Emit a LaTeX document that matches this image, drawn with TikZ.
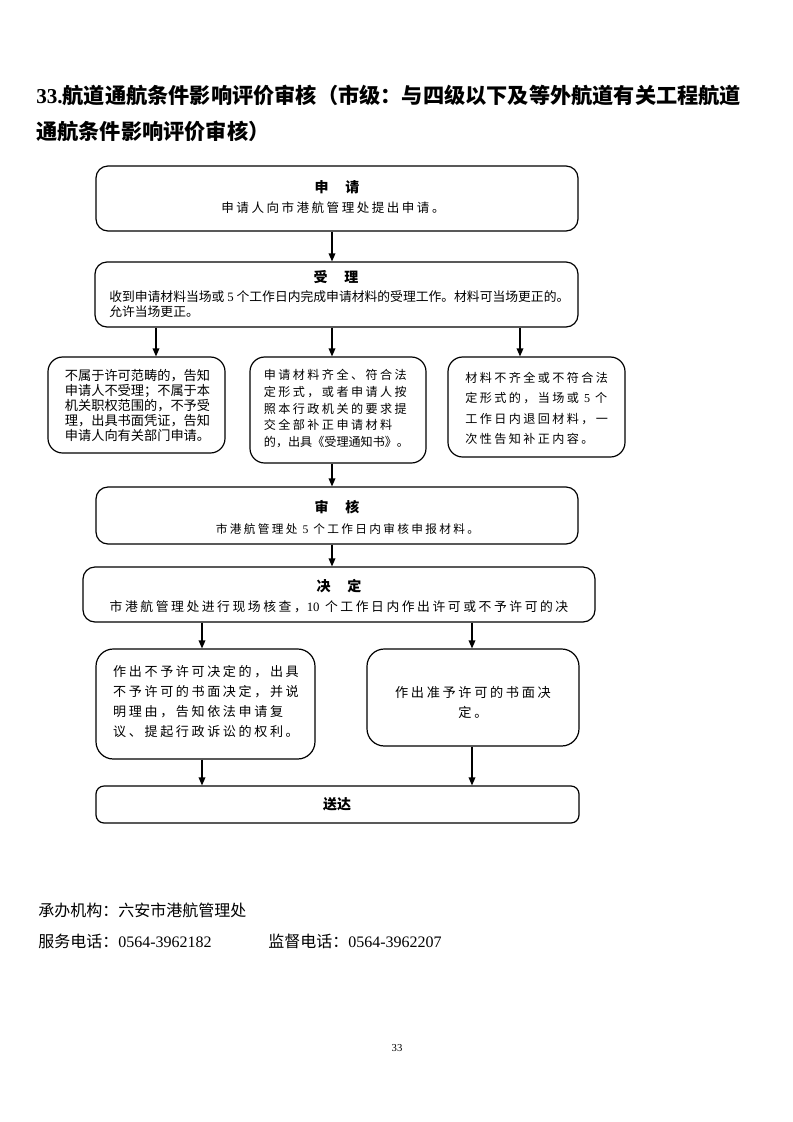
\documentclass[tikz,border=0pt]{standalone}
\usepackage{fontspec}
\setmainfont{Noto Sans CJK SC}
\newfontfamily\wide[LetterSpace=20]{Noto Sans CJK SC}
\newfontfamily\latin{Liberation Serif}
\usetikzlibrary{arrows.meta}

\tikzset{
  box/.style={draw, line width=0.9pt, rounded corners=9pt, inner sep=0pt},
  arr/.style={-{Triangle[length=6pt,width=5pt]}, line width=0.9pt},
  boxhead/.style={inner sep=0pt, font=\fontsize{10.5pt}{12pt}\selectfont\bfseries},
  txt/.style={inner sep=0pt},
}

\begin{document}
\begin{tikzpicture}[x=0.75pt, y=-0.75pt]
\useasboundingbox (0,0) rectangle (793,1122);

% Title
\node[txt, anchor=west, align=left, font=\fontsize{15.9pt}{27pt}\selectfont\bfseries] (title) at (36,113)
  {{\latin 33.}航道通航条件影响评价审核（市级：与四级以下及等外航道有关工程航道\\通航条件影响评价审核）};

% Boxes
\node[box, minimum width=361.5pt, minimum height=48.75pt] (apply) at (337,198.5) {};
\node[box, minimum width=362.25pt, minimum height=48.75pt] (accept) at (336.5,294.5) {};
\node[box, rounded corners=11pt, minimum width=132.75pt, minimum height=72pt] (rej) at (136.5,405) {};
\node[box, rounded corners=11pt, minimum width=132pt, minimum height=79.5pt] (ok) at (338,410) {};
\node[box, rounded corners=11pt, minimum width=132.75pt, minimum height=75pt] (fix) at (536.5,407) {};
\node[box, minimum width=361.5pt, minimum height=42.75pt] (review) at (337,515.5) {};
\node[box, minimum width=384pt, minimum height=41.25pt] (decide) at (339,594.5) {};
\node[box, rounded corners=13pt, minimum width=164.25pt, minimum height=82.5pt] (deny) at (205.5,704) {};
\node[box, rounded corners=13pt, minimum width=159pt, minimum height=72.75pt] (grant) at (473,697.5) {};
\node[box, rounded corners=6pt, minimum width=362.25pt, minimum height=27.75pt] (deliver) at (337.5,804.5) {};

% Box texts
\node[boxhead] (applyhead) at (337,187) {申\hspace{1.2em}请};
\node[txt, font=\wide\fontsize{9.4pt}{12pt}\selectfont] (applytxt) at (333,208) {申请人向市港航管理处提出申请。};

\node[boxhead] (accepthead) at (336,277) {受\hspace{1.2em}理};
\node[txt, anchor=west, align=left, font=\fontsize{9.6pt}{11.25pt}\selectfont] (accepttxt) at (109,304.5)
  {收到申请材料当场或 {\latin 5} 个工作日内完成申请材料的受理工作。材料可当场更正的。\\允许当场更正。};

\node[txt, align=left, font=\fontsize{9.9pt}{11.25pt}\selectfont] (rejtxt) at (137.5,405.5)
  {不属于许可范畴的，告知\\申请人不受理；不属于本\\机关职权范围的，不予受\\理，出具书面凭证，告知\\申请人向有关部门申请。};
\node[txt, align=left, font=\wide\fontsize{9.07pt}{12.5pt}\selectfont] (oktxt) at (336.5,408.5)
  {申请材料齐全、符合法\\定形式，或者申请人按\\照本行政机关的要求提\\交全部补正申请材料\\{\normalfont\fontsize{9.07pt}{12.5pt}\selectfont 的，出具《受理通知书》。}};
\node[txt, anchor=west, align=left, font=\wide\fontsize{9.07pt}{15.4pt}\selectfont] (fixtxt) at (465,408.5)
  {材料不齐全或不符合法\\定形式的，当场或 {\latin 5} 个\\工作日内退回材料，一\\次性告知补正内容。};

\node[boxhead] (reviewhead) at (337,507) {审\hspace{1.2em}核};
\node[txt, font=\wide\fontsize{8.75pt}{12pt}\selectfont] (reviewtxt) at (347.5,529) {市港航管理处 {\latin 5} 个工作日内审核申报材料。};

\node[boxhead] (decidehead) at (339,586) {决\hspace{1.2em}定};
\node[txt, font=\wide\fontsize{9.6pt}{12pt}\selectfont] (decidetxt) at (339,607) {市港航管理处进行现场核查，{\latin 10} 个工作日内作出许可或不予许可的决};

\node[txt, align=left, font=\wide\fontsize{9.8pt}{15pt}\selectfont] (denytxt) at (206,702)
  {作出不予许可决定的，出具\\不予许可的书面决定，并说\\明理由，告知依法申请复\\议、提起行政诉讼的权利。};
\node[txt, align=center, font=\wide\fontsize{9.9pt}{15pt}\selectfont] (granttxt) at (473,702)
  {作出准予许可的书面决\\定。};

\node[boxhead] (deliverhead) at (337,804) {送达};

% Connectors
\coordinate (c1) at (156,0);
\coordinate (c2) at (332,0);
\coordinate (c3) at (520,0);
\coordinate (c4) at (202,0);
\coordinate (c5) at (472,0);
\draw[arr] (c2 |- apply.south) -- (c2 |- accept.north);
\draw[arr] (c1 |- accept.south) -- (c1 |- rej.north);
\draw[arr] (c2 |- accept.south) -- (c2 |- ok.north);
\draw[arr] (c3 |- accept.south) -- (c3 |- fix.north);
\draw[arr] (c2 |- ok.south) -- (c2 |- review.north);
\draw[arr] (c2 |- review.south) -- (c2 |- decide.north);
\draw[arr] (c4 |- decide.south) -- (c4 |- deny.north);
\draw[arr] (c5 |- decide.south) -- (c5 |- grant.north);
\draw[arr] (c4 |- deny.south) -- (c4 |- deliver.north);
\draw[arr] (c5 |- grant.south) -- (c5 |- deliver.north);

% Footer
\node[txt, anchor=west, font=\fontsize{12pt}{14pt}\selectfont] (org) at (38,910) {承办机构：六安市港航管理处};
\node[txt, anchor=west, font=\fontsize{12pt}{14pt}\selectfont] (tel) at (38,941) {服务电话：{\latin 0564-3962182}};
\node[txt, anchor=west, font=\fontsize{12pt}{14pt}\selectfont] (supervise) at (268,941) {监督电话：{\latin 0564-3962207}};
\node[txt, font=\latin\fontsize{8pt}{9pt}\selectfont] (pagenum) at (397,1048) {33};

\end{tikzpicture}
\end{document}
